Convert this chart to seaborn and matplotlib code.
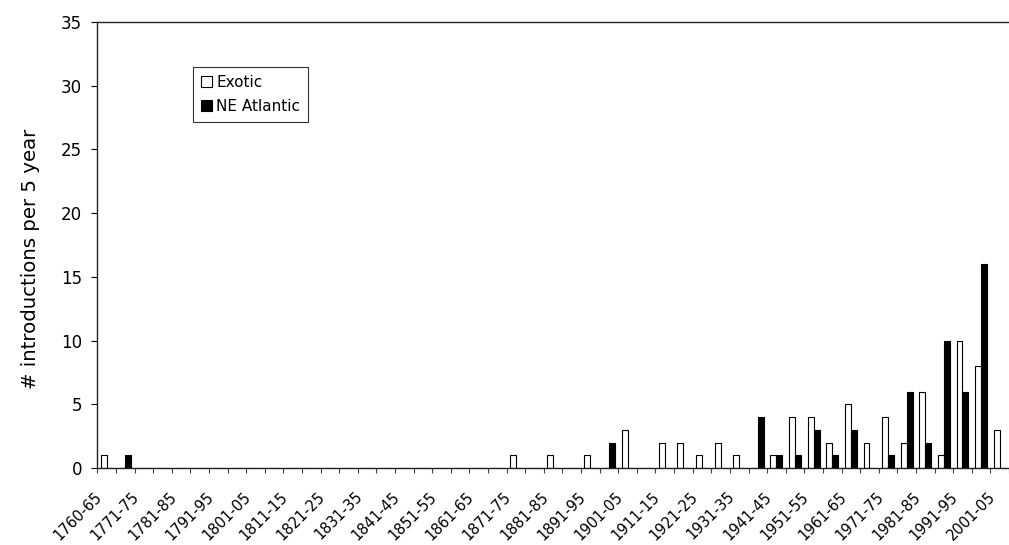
import numpy as np
import pandas as pd
import matplotlib
matplotlib.use("Agg")
import matplotlib.pyplot as plt
import matplotlib.transforms as mtransforms
from matplotlib.patches import Patch
import seaborn as sns

# 5-year periods (category axis)
periods = [
    "1760-65", "1766-70", "1771-75", "1776-80", "1781-85", "1786-90", "1791-95", "1796-00",
    "1801-05", "1806-10", "1811-15", "1816-20", "1821-25", "1826-30", "1831-35", "1836-40",
    "1841-45", "1846-50", "1851-55", "1856-60", "1861-65", "1866-70", "1871-75", "1876-80",
    "1881-85", "1886-90", "1891-95", "1896-00", "1901-05", "1906-10", "1911-15", "1916-20",
    "1921-25", "1926-30", "1931-35", "1936-40", "1941-45", "1946-50", "1951-55", "1956-60",
    "1961-65", "1966-70", "1971-75", "1976-80", "1981-85", "1986-90", "1991-95", "1996-00",
    "2001-05",
]

exotic = [
    1, 0, 0, 0, 0, 0, 0, 0,
    0, 0, 0, 0, 0, 0, 0, 0,
    0, 0, 0, 0, 0, 0, 1, 0,
    1, 0, 1, 0, 3, 0, 2, 2,
    1, 2, 1, 0, 1, 4, 4, 2,
    5, 2, 4, 2, 6, 1, 10, 8,
    3,
]

ne_atlantic = [
    0, 1, 0, 0, 0, 0, 0, 0,
    0, 0, 0, 0, 0, 0, 0, 0,
    0, 0, 0, 0, 0, 0, 0, 0,
    0, 0, 0, 2, 0, 0, 0, 0,
    0, 0, 0, 4, 1, 1, 3, 1,
    3, 0, 1, 6, 2, 10, 6, 16,
    0,
]

series_names = ["Exotic", "NE Atlantic"]
y_ticks = [0, 5, 10, 15, 20, 25, 30, 35]

sns.set_theme(style="ticks")
plt.rcParams.update({
    "font.family": ["DejaVu Sans"],
    "text.color": "black",
    "axes.labelcolor": "black",
    "xtick.color": "black",
    "ytick.color": "black",
})

df = pd.DataFrame({
    "period": periods * 2,
    "series": [series_names[0]] * len(periods) + [series_names[1]] * len(periods),
    "count": exotic + ne_atlantic,
})

W, H = 1009, 545
fig = plt.figure(figsize=(W / 100, H / 100), dpi=100)
ax = fig.add_axes([97.3 / W, (H - 468) / H, (W - 97.3) / W, (468 - 22) / H])

sns.barplot(
    data=df, x="period", y="count", hue="series",
    order=periods, hue_order=series_names,
    palette={"Exotic": "white", "NE Atlantic": "black"},
    width=0.64, gap=0, edgecolor="black", linewidth=0.8,
    legend=False, ax=ax,
)

ax.set_xlim(-0.5, 47.94)
ax.set_ylim(0, 35)
ax.set_yticks(y_ticks)
ax.tick_params(axis="y", labelsize=12, length=4, width=0.8, pad=7)

ax.set_xticks(range(0, len(periods), 2))
ax.set_xticklabels(periods[::2], rotation=45, ha="right", va="center",
                   rotation_mode="anchor", fontsize=10.5)
ax.set_xticks(np.arange(-0.5, len(periods), 1), minor=True)
ax.tick_params(axis="x", which="major", length=0, pad=19)
ax.tick_params(axis="x", which="minor", length=3.6, width=0.8, color="#444444")

# nudge the rotated labels a little to the left, like the original
shift = mtransforms.ScaledTranslation(-7 / 100, 0, fig.dpi_scale_trans)
for lbl in ax.get_xticklabels():
    lbl.set_transform(lbl.get_transform() + shift)

ax.set_xlabel("")
ax.set_ylabel("# introductions per 5 year", fontsize=14.2)
ax.yaxis.set_label_coords(-0.063, 0.47)

for side in ["left", "bottom", "top"]:
    ax.spines[side].set_color("#222222")
    ax.spines[side].set_linewidth(1.0)
ax.spines["right"].set_visible(False)

handles = [Patch(facecolor="white", edgecolor="black", linewidth=0.8),
           Patch(facecolor="black", edgecolor="black", linewidth=0.8)]
leg = ax.legend(handles, series_names, loc="upper left",
                bbox_to_anchor=(0.1053, 0.8984), borderaxespad=0,
                fontsize=11, handlelength=0.7, handleheight=0.7,
                handletextpad=0.3, borderpad=0.5, labelspacing=0.6,
                fancybox=False, framealpha=1, edgecolor="#333333")
leg.get_frame().set_linewidth(0.8)

fig.savefig("out.png", dpi=100, facecolor="white")
